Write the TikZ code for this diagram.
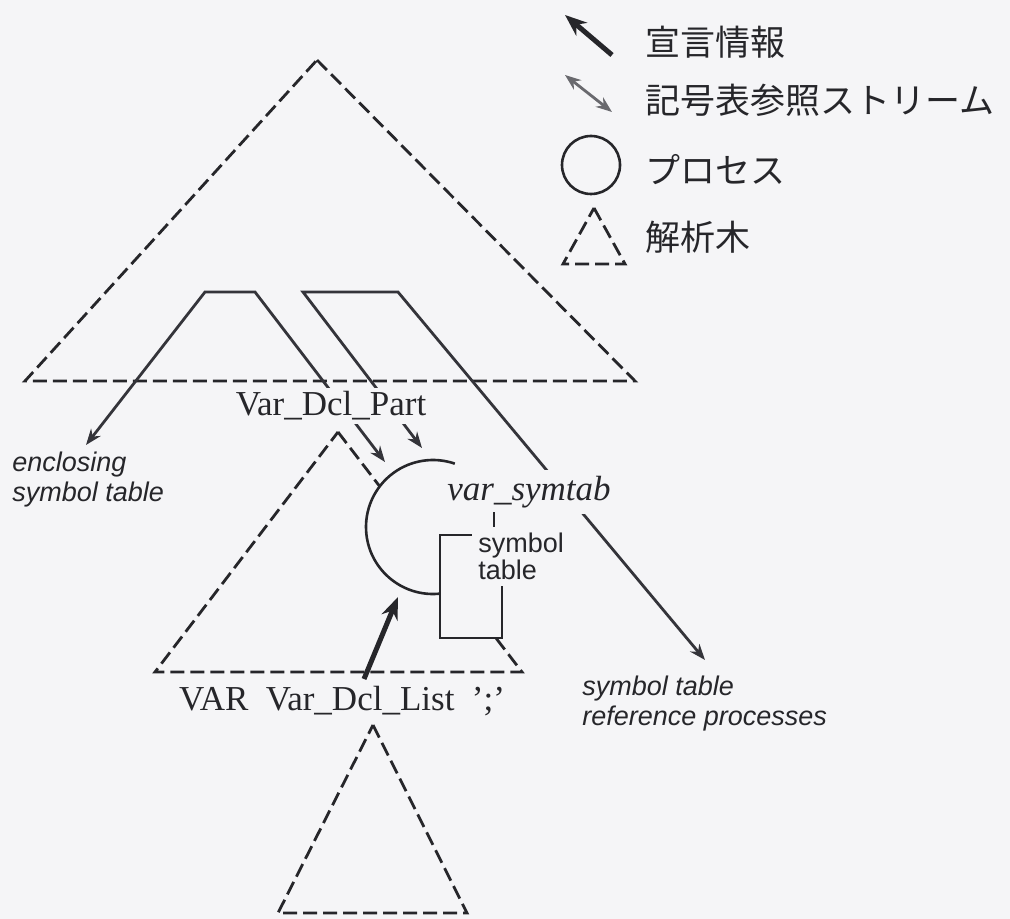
\documentclass[tikz,border=0pt]{standalone}
\usepackage{fontspec}
\setmainfont{Liberation Serif}
\setsansfont{Liberation Sans}
\newfontfamily\jpfont{Noto Sans CJK JP}
\definecolor{paper}{RGB}{245,245,247}
\definecolor{inkblack}{RGB}{38,38,42}
\definecolor{streamgray}{RGB}{52,52,58}
\definecolor{legendgray}{RGB}{105,105,110}
\usetikzlibrary{arrows.meta}

\begin{document}
\begin{tikzpicture}[x=0.5pt,y=-0.5pt,color=inkblack,
    treeedge/.style={draw=inkblack,line width=1.4pt,dash pattern=on 7pt off 3pt},
    solidedge/.style={draw=inkblack,line width=1.3pt},
    streamline/.style={draw=streamgray,line width=1.4pt,
      {Stealth[length=8pt,width=6pt]}-{Stealth[length=8pt,width=6pt]}},
    declline/.style={draw=inkblack,line width=2.5pt,-{Stealth[length=11pt,width=8.5pt]}},
    symname/.style={font=\fontsize{17.5}{20}\selectfont,fill=paper,inner sep=2pt},
    procname/.style={font=\fontsize{17.5}{20}\selectfont\itshape,fill=paper,inner sep=3pt},
    boxname/.style={font=\fontsize{13.5}{12.5}\selectfont\sffamily,fill=paper,inner sep=3pt,
      align=left,anchor=west},
    notelabel/.style={font=\fontsize{13.5}{15}\selectfont\sffamily\itshape,align=left,
      anchor=north west,inner sep=0pt},
    legendtext/.style={font=\fontsize{17.5}{20}\selectfont\jpfont,anchor=west,inner sep=0pt}]

  \fill[paper] (0,0) rectangle (1010,919);
  \useasboundingbox (0,0) rectangle (1010,919);

  \coordinate (topapex) at (317,60);
  \coordinate (partapex) at (338,432);
  \coordinate (listapex) at (373,725);
  \draw[treeedge] (topapex) -- (635,381) -- (25,381) -- cycle;
  \draw[treeedge] (partapex) -- (522,672) -- (155,672) -- cycle;
  \draw[treeedge] (listapex) -- (467,913) -- (278,913) -- cycle;

  \coordinate (outerin) at (385,462);
  \coordinate (outerend) at (86,445);
  \coordinate (refin) at (422,448);
  \coordinate (refend) at (705,660);
  \draw[streamline] (outerin) -- (255,292) -- (205,292) -- (outerend);
  \draw[streamline] (refin) -- (303,292) -- (398,292) -- (refend);

  \node[symname] (partlabel) at (331,406) {Var\_Dcl\_Part};

  \coordinate (proc) at (433,527);
  \fill[paper] (proc) circle[radius=67];
  \filldraw[fill=paper,solidedge] (440,535) rectangle (502,638);
  \node[procname] (procname) at (529,492) {var\_symtab};
  \draw[solidedge] ([shift={(84:67)}]proc) arc[start angle=84,end angle=289,radius=67];
  \node[boxname] (symtab) at (472,556) {symbol\\table};
  \draw[solidedge] (494,512) -- (494,527);

  \coordinate (dcltail) at (364,679);
  \coordinate (dclin) at (398,597);
  \draw[declline] (dcltail) -- (dclin);

  \node[font=\fontsize{17.5}{20}\selectfont] (varlist) at (342,701) {VAR\ \ Var\_Dcl\_List\ \ ';'};
  \node[notelabel] (enclosing) at (12,452) {enclosing\\symbol table};
  \node[notelabel] (reflabel) at (582,676) {symbol table\\reference processes};

  \draw[declline] (612,55) -- (565,15);
  \draw[streamline,draw=legendgray] (565,75) -- (612,112);
  \draw[solidedge] (591,165) circle[radius=29];
  \draw[treeedge] (594,208) -- (625,264) -- (563,264) -- cycle;
  \node[legendtext] (legdecl) at (645,42) {宣言情報};
  \node[legendtext] (legstream) at (645,100) {記号表参照ストリーム};
  \node[legendtext] (legproc) at (645,170) {プロセス};
  \node[legendtext] (legtree) at (645,237) {解析木};
\end{tikzpicture}
\end{document}
